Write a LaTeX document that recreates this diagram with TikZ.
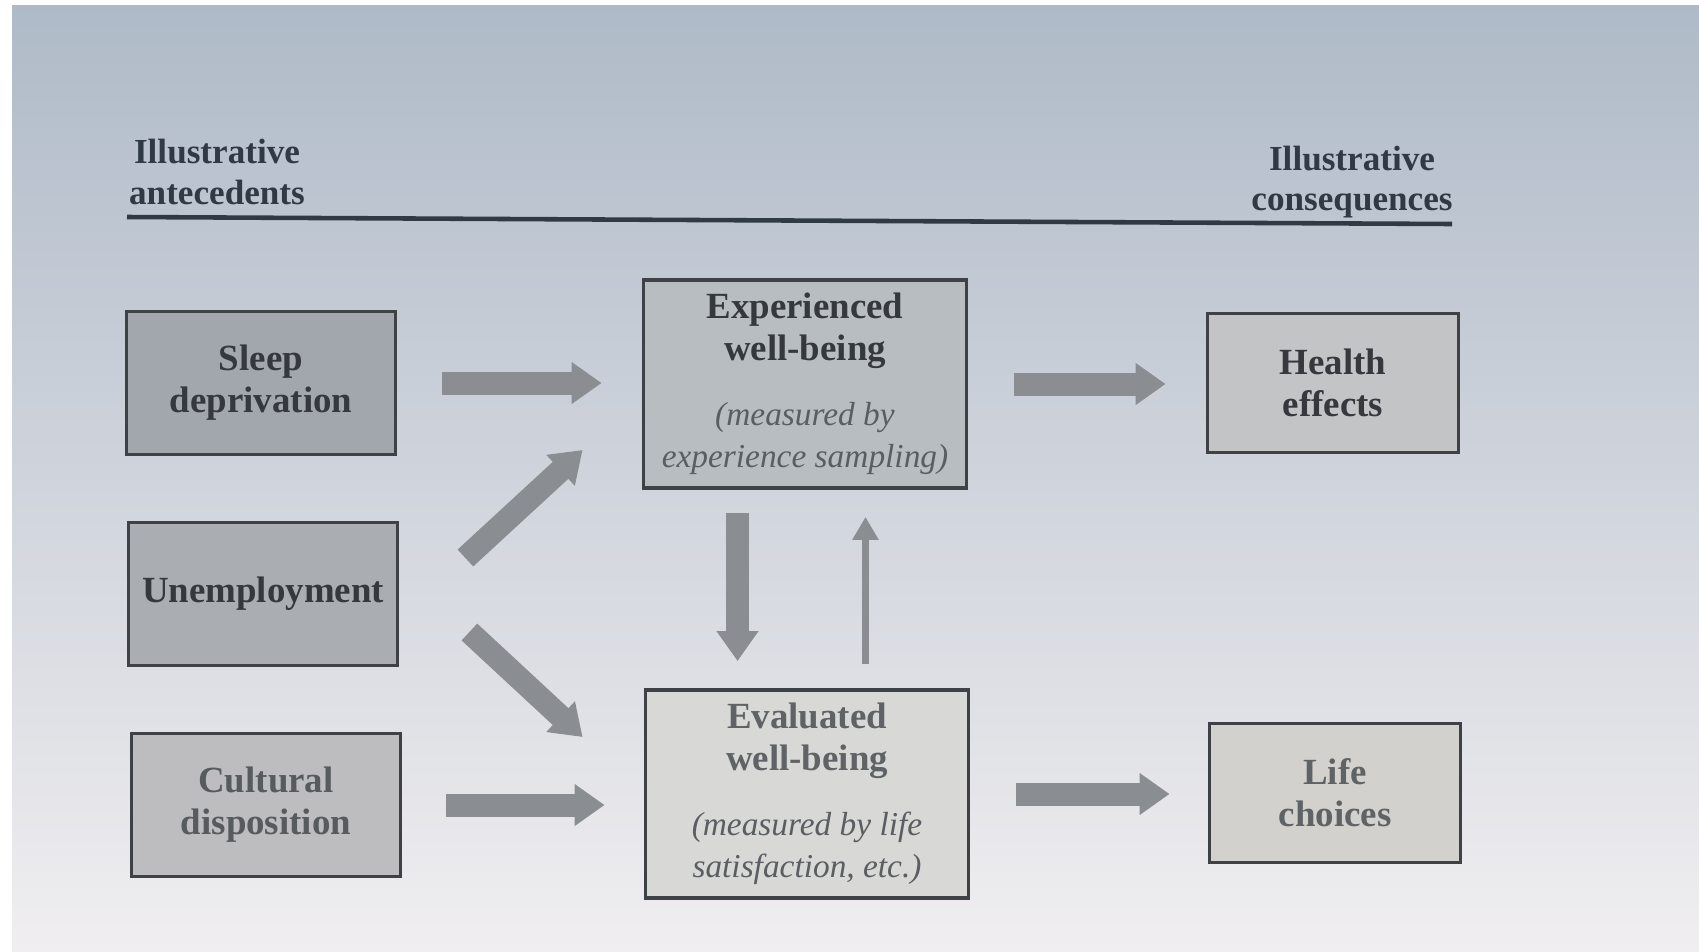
\documentclass[tikz,border=0pt]{standalone}
\usepackage{fontspec}
\setmainfont{Liberation Serif}
\usetikzlibrary{arrows.meta,calc}

\definecolor{bgtop}{HTML}{AFBAC8}
\definecolor{bgmid}{HTML}{DCE1E7}
\definecolor{bgbot}{HTML}{F0EEF0}
\definecolor{rulecol}{HTML}{2F3A44}
\definecolor{boxline}{HTML}{3E4247}
\definecolor{boxtext}{HTML}{35393E}
\definecolor{fadetext}{HTML}{606366}
\definecolor{notetext}{HTML}{5A5E62}
\definecolor{arrowgrey}{HTML}{8A8E92}
\definecolor{sleepfill}{HTML}{A2A7AD}
\definecolor{unempfill}{HTML}{AAADB1}
\definecolor{cultfill}{HTML}{BDBCBE}
\definecolor{expfill}{HTML}{B8BDC2}
\definecolor{evalfill}{HTML}{D8D8D6}
\definecolor{healthfill}{HTML}{C3C4C6}
\definecolor{lifefill}{HTML}{D3D1CE}

\newcommand\boxfont{\fontsize{21}{24}\selectfont\bfseries}
\newcommand\notefont{\fontsize{19}{23}\selectfont\mdseries\itshape\color{notetext}}

\tikzset{
  box/.style={draw=boxline, line width=2.2pt, align=center, text=boxtext,
    font=\boxfont, inner sep=0pt},
  sidebox/.style={box, minimum width=5.38cm, minimum height=2.86cm},
  wbbox/.style={box, minimum width=6.46cm, minimum height=4.16cm},
  outbox/.style={box, minimum width=5.02cm, minimum height=2.78cm},
  heading/.style={align=center, text=rulecol, font=\fontsize{20}{23}\selectfont\bfseries},
  fatarrow/.style={draw=arrowgrey, line width=0.46cm,
    -{Triangle[width=0.8cm,length=0.6cm]}},
  thinarrow/.style={draw=arrowgrey, line width=0.13cm,
    -{Triangle[width=0.5cm,length=0.46cm]}}
}

\begin{document}
\begin{tikzpicture}[x=0.02cm, y=-0.02cm]
  \useasboundingbox (0,0) rectangle (1699,951);
  % photo background
  \fill[white] (0,0) rectangle (1699,951);
  \shade[top color=bgtop, middle color=bgmid, bottom color=bgbot] (12,5) rectangle (1699,951);

  % headings and rule
  \node[heading] at (217,172) (anteced) {Illustrative\\antecedents};
  \node[heading] at (1352,182) (conseq) {Illustrative\\consequences};
  \draw[rulecol, line width=2.6pt] (127,217) -- (1452,224);

  % antecedents
  \node[sidebox, fill=sleepfill] at (261,383) (sleep) {Sleep\\deprivation};
  \node[sidebox, fill=unempfill] at (263,594) (unemp) {Unemployment};
  \node[sidebox, fill=cultfill, text=fadetext!80!boxtext] at (266,805) (culture) {Cultural\\disposition};

  % well-being
  \node[wbbox, fill=expfill] at (805,384) (expwb)
    {Experienced\\well-being\\[0.45cm]\notefont (measured by\\\notefont experience sampling)};
  \node[wbbox, fill=evalfill, text=fadetext] at (807,794) (evalwb)
    {Evaluated\\well-being\\[0.45cm]\notefont (measured by life\\\notefont satisfaction, etc.)};

  % consequences
  \node[outbox, fill=healthfill] at (1333,383) (health) {Health\\effects};
  \node[outbox, fill=lifefill, text=fadetext] at (1335,793) (life) {Life\\choices};

  % arrows
  \draw[fatarrow, shorten <=0.9cm, shorten >=0.8cm] (sleep.east) -- (sleep.east -| expwb.west);
  \draw[fatarrow] ($(unemp.east)+(66,-36)$) -- ($(expwb.west)+(-59,66)$);
  \draw[fatarrow] ($(unemp.east)+(70,38)$) -- ($(evalwb.west)+(-61,-57)$);
  \draw[fatarrow, shorten <=0.88cm, shorten >=0.78cm] (culture.east) -- (culture.east -| evalwb.west);
  \draw[fatarrow, shorten <=0.46cm, shorten >=0.54cm] ([xshift=-1.35cm]expwb.south) -- ([xshift=-1.35cm]expwb.south |- evalwb.north);
  \draw[thinarrow, shorten <=0.48cm, shorten >=0.54cm] ([xshift=1.17cm]evalwb.north) -- ([xshift=1.17cm]evalwb.north |- expwb.south);
  \draw[fatarrow, shorten <=0.92cm, shorten >=0.8cm] (expwb.east) -- (expwb.east -| health.west);
  \draw[fatarrow, shorten <=0.92cm, shorten >=0.76cm] (evalwb.east) -- (evalwb.east -| life.west);
\end{tikzpicture}
\end{document}
